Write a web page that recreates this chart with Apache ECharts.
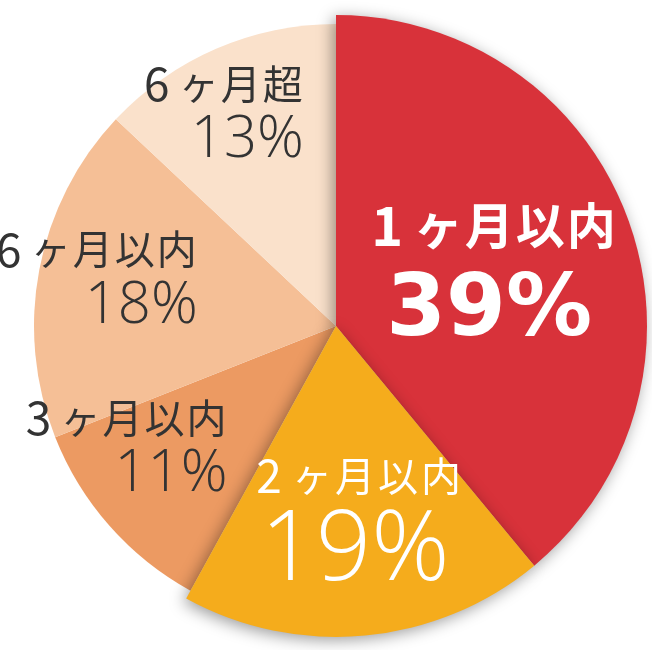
<!DOCTYPE html>
<html><head><meta charset="utf-8">
<script src="https://cdn.jsdelivr.net/npm/echarts@6/dist/echarts.min.js"></script>
<style>html,body{margin:0;padding:0;background:#fff}#c{width:652px;height:650px}</style>
</head><body><div id="c"></div>
<script>
const categories = ['1ヶ月以内', '2ヶ月以内', '3ヶ月以内', '6ヶ月以内', '6ヶ月超'];
const values = [39, 19, 11, 18, 13];
const sliceColors = ['#d8323a', '#f5ac1c', '#ec9a62', '#f5bf96', '#fae1cb'];
const featured = [true, true, false, false, false];
const labelStyleKey = ['R', 'O', 'L', 'L', 'L'];
const labelShift = [[4, 9], [4, 44], [-98, 24], [-92, -14], [-55, -67]];

const CJK = '"Noto Sans CJK JP", sans-serif';
const NUM = '"Open Sans", Lato, sans-serif';

const rich = {
  nR: {fontFamily: CJK, fontSize: 49, fontWeight: 'bold', color: '#fff', width: 51, align: 'center', lineHeight: 62},
  dR: {fontFamily: CJK, fontSize: 54, fontWeight: 'bold', color: '#fff', width: 51, align: 'center', lineHeight: 62},
  pR: {fontFamily: '"DejaVu Sans", sans-serif', fontSize: 86, fontWeight: 'bold', color: '#fff', lineHeight: 112, align: 'center'},
  nO: {fontFamily: CJK, fontSize: 40, color: '#fff', width: 43, align: 'center', lineHeight: 50},
  dO: {fontFamily: CJK, fontSize: 46, color: '#fff', width: 43, align: 'center', lineHeight: 50},
  pO: {fontFamily: NUM, fontSize: 97, fontWeight: 300, color: '#fff', lineHeight: 104, align: 'center'},
  nL: {fontFamily: CJK, fontSize: 40, color: '#333', width: 42, align: 'center', lineHeight: 46},
  dL: {fontFamily: CJK, fontSize: 46, color: '#333', width: 42, align: 'center', lineHeight: 46},
  pL: {fontFamily: NUM, fontSize: 58, fontWeight: 300, color: '#333', lineHeight: 68, align: 'right'}
};

function formatter(p) {
  const k = labelStyleKey[p.dataIndex];
  const name = Array.from(p.name).map(ch => '{' + (/[0-9]/.test(ch) ? 'd' : 'n') + k + '|' + ch + '}').join('');
  return name + '\n{p' + k + '|' + p.value + '%}';
}

function labelLayout(p) {
  const s = labelShift[p.dataIndex];
  return {dx: s[0], dy: s[1]};
}

function mkData(big) {
  return categories.map((name, i) => {
    const on = featured[i] === big;
    return {
      name: name,
      value: values[i],
      itemStyle: on ? {color: sliceColors[i]} : {color: 'rgba(0,0,0,0)', shadowBlur: 0, shadowColor: 'rgba(0,0,0,0)'},
      label: {show: on}
    };
  });
}

const chart = echarts.init(document.getElementById('c'), null, {renderer: 'canvas'});
const common = {
  type: 'pie',
  center: [336, 326],
  startAngle: 90,
  clockwise: true,
  silent: true,
  avoidLabelOverlap: false,
  label: {position: 'inside', formatter: formatter, rich: rich},
  labelLine: {show: false},
  labelLayout: labelLayout,
  emphasis: {disabled: true}
};
chart.setOption({
  animation: false,
  backgroundColor: '#ffffff',
  series: [
    Object.assign({}, common, {
      radius: 302, z: 1,
      itemStyle: {borderWidth: 0},
      data: mkData(false)
    }),
    Object.assign({}, common, {
      radius: 311, z: 2,
      itemStyle: {borderWidth: 0, shadowBlur: 16, shadowColor: 'rgba(0,0,0,0.4)', shadowOffsetX: -3, shadowOffsetY: 3},
      data: mkData(true)
    })
  ]
});
</script></body></html>
